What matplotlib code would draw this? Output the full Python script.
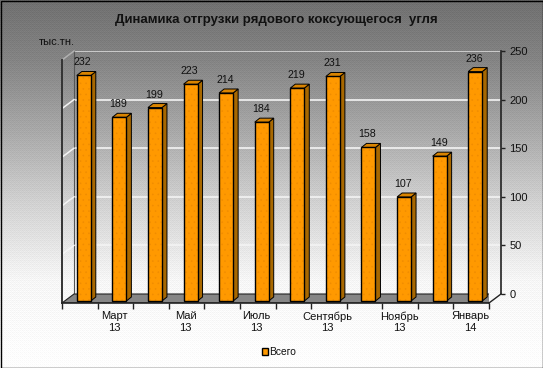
#!/usr/bin/env python3
import numpy as np
import matplotlib
matplotlib.use('Agg')
import matplotlib.pyplot as plt
from matplotlib.patches import Polygon, Rectangle
from matplotlib.transforms import offset_copy

plt.rcParams['font.family'] = ['Liberation Sans', 'DejaVu Sans']
plt.rcParams['hatch.linewidth'] = 0.4

W, H = 543, 368

categories = ['Февраль\n13', 'Март\n13', 'Апрель\n13', 'Май\n13', 'Июнь\n13', 'Июль\n13',
              'Август\n13', 'Сентябрь\n13', 'Октябрь\n13', 'Ноябрь\n13', 'Декабрь\n13', 'Январь\n14']
values = [232, 189, 199, 223, 214, 184, 219, 231, 158, 107, 149, 236]
y_ticks = [0, 50, 100, 150, 200, 250]
series_name = 'Всего'
title = 'Динамика отгрузки рядового коксующегося  угля'
unit = 'тыс.тн.'


def axes_px(left, top, right, bottom):
    # axes box from pixel edges, y counted from the top of the picture
    return [left / W, 1 - bottom / H, (right - left) / W, (bottom - top) / H]


fig = plt.figure(figsize=(W / 100, H / 100), dpi=100)

# background gradient with an ordered dither, like the old gif export
bg = fig.add_axes([0, 0, 1, 1], zorder=0)
bayer = np.array([[0, 8, 2, 10], [12, 4, 14, 6], [3, 11, 1, 9], [15, 7, 13, 5]]) / 16 - 0.5
rows = np.interp(np.arange(H), [0, 60, 130, 200, 280, 368], [112, 132, 168, 208, 246, 255])
grad = np.tile(rows[:, None], (1, W)) + 14 * np.tile(bayer, (H // 4 + 1, W // 4 + 1))[:H, :W]
bg.imshow(np.clip(grad, 0, 255), cmap='gray', vmin=0, vmax=255, aspect='auto', interpolation='nearest')
bg.axis('off')
bg.add_patch(Rectangle((0.5, 0.5), W - 1.5, H - 1.5, fill=False, ec='black', lw=1.0))

# back wall, carries the gridlines and the value axis
wall = fig.add_axes(axes_px(74, 51, 501, 294), zorder=1)
wall.patch.set_visible(False)
wall.set_xlim(0, 12)
wall.set_ylim(0, 250)
wall.set_xticks([])
wall.set_yticks(y_ticks)
wall.yaxis.tick_right()
wall.tick_params(axis='y', length=3, width=1, color='#222222', labelsize=8, pad=3, labelcolor='#111111')
for v in y_ticks[1:]:
    wall.axhline(v, color='#f4f4f4' if v < 250 else '#d8d8d8', lw=1.2, zorder=1)
for s in ['top', 'bottom']:
    wall.spines[s].set_visible(False)
wall.spines['left'].set_color('#555555')
wall.spines['right'].set_color('#222222')
wall.spines['right'].set_linewidth(1.2)

# front plane, bars sit just behind it
ax = fig.add_axes(axes_px(62, 60, 489, 303), zorder=2)
ax.patch.set_visible(False)
ax.set_xlim(0, 12)
ax.set_ylim(0, 250)
ax.set_yticks([])
ax.set_xticks(np.arange(13))
ax.set_xticklabels([])
ax.set_xticks(np.arange(1, 12, 2) + 0.47, minor=True)
ax.set_xticklabels(categories[1::2], minor=True, fontsize=8, color='#111111', linespacing=1.15)
ax.tick_params(axis='x', which='major', length=4, width=1, color='#222222')
ax.tick_params(axis='x', which='minor', length=0, pad=6)
for s in ['top', 'right']:
    ax.spines[s].set_visible(False)
ax.spines['left'].set_color('#333333')
ax.spines['left'].set_linewidth(1.4)
ax.spines['bottom'].set_color('#222222')
ax.spines['bottom'].set_linewidth(1.2)

ux = 12 / 427  # one pixel in data units
uy = 250 / 243

# floor and the diagonal grid stubs on the left wall
ax.add_patch(Polygon([(0, 0), (12 * ux, 9 * uy), (439 * ux, 9 * uy), (12, 0)],
                     fc='#868686', ec='#222222', lw=0.8, zorder=1))
for v in y_ticks[1:]:
    ax.plot([0, 12 * ux], [v, v + 9 * uy], color='#f4f4f4' if v < 250 else '#b0b0b0',
            lw=1.1, zorder=1, clip_on=False)
ax.plot([12, 12 + 12 * ux], [0, 9 * uy], color='#222222', lw=1.0, zorder=1, clip_on=False)

# bars: front face through ax.bar, side and top as polygons behind it
bw = 14 * ux
dx, dy = 5 * ux, 4 * uy
shift = offset_copy(ax.transData, fig=fig, x=4, y=2, units='dots')
x = np.arange(len(values)) + 0.5
# speckle on the front faces, under the black outline
ax.bar(x, values, width=bw, color='#ff9900', edgecolor='#f08c00', lw=0, hatch='...',
       transform=shift, zorder=2.9)
bars = ax.bar(x, values, width=bw, fill=False, edgecolor='black', lw=1.0,
              transform=shift, zorder=3)
legend_patch = Rectangle((0, 0), 1, 1, fc='#ff9900', ec='black', lw=1.0, label=series_name)
for xi, v in zip(x, values):
    l, r = xi - bw / 2, xi + bw / 2
    ax.add_patch(Polygon([(r, 0), (r + dx, dy), (r + dx, v + dy), (r, v)], fc='#a86800', ec='black',
                         lw=0.7, transform=shift, zorder=2, clip_on=False))
    ax.add_patch(Polygon([(l, v), (l + dx, v + dy), (r + dx, v + dy), (r, v)], fc='#d98400', ec='black',
                         lw=0.7, transform=shift, zorder=2, clip_on=False))
    ax.annotate(str(v), (xi, v), xytext=(-1, 8), textcoords='offset pixels', xycoords=shift,
                ha='center', va='bottom', fontsize=7.7, color='#111111', zorder=4,
                annotation_clip=False)

fig.text(276.5 / W, 1 - 20 / H, title, ha='center', va='center', fontsize=9.5, fontweight='bold', color='#111111')
fig.text(39 / W, 1 - 42 / H, unit, ha='left', va='center', fontsize=8, color='#111111')

leg = fig.legend(handles=[legend_patch], loc='center', bbox_to_anchor=(279 / W, 1 - 352 / H), frameon=False,
                 fontsize=7.4, handlelength=0.65, handleheight=0.65, handletextpad=0.1,
                 labelcolor='#111111')
leg.set_zorder(5)

fig.savefig('out.png', dpi=100)
